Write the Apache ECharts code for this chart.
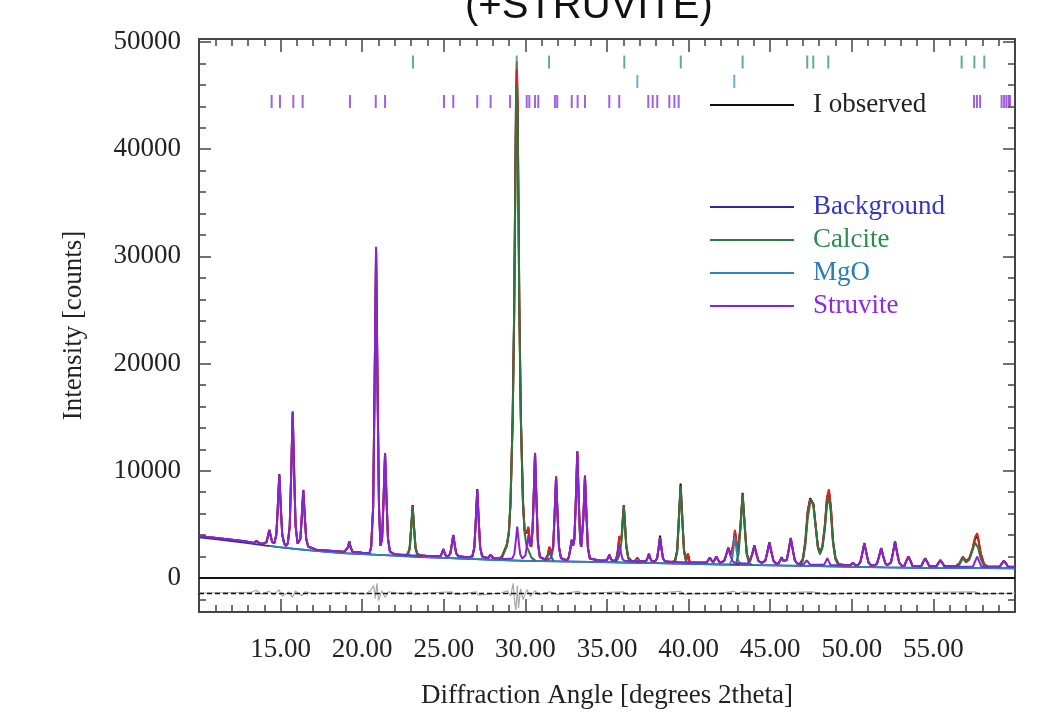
<!DOCTYPE html>
<html>
<head>
<meta charset="utf-8">
<script src="https://cdn.jsdelivr.net/npm/echarts@6/dist/echarts.min.js"></script>
<style>
html,body{margin:0;padding:0;background:#fff}
#chart{width:1042px;height:727px}
</style>
</head>
<body>
<div id="chart"></div>
<script>
// tick labels
var xLabels = [15, 20, 25, 30, 35, 40, 45, 50, 55];
var yLabels = [0, 10000, 20000, 30000, 40000, 50000];

// reflection positions (degrees 2theta)
var calciteRefl = [23.11, 29.47, 31.45, 36.06, 39.52, 43.31, 47.27, 47.64, 48.56, 56.73, 57.51, 58.12];
var mgoRefl = [36.86, 42.80];
var struviteRefl = [14.45, 14.96, 15.78, 16.35, 19.25, 20.83, 21.40, 25.01, 25.58, 27.05, 27.87, 29.06,
    30.08, 30.24, 30.59, 30.79, 31.81, 31.95, 32.84, 33.20, 33.65, 35.14, 35.75, 37.53, 37.80, 38.08,
    38.82, 39.13, 39.39, 57.49, 57.67, 57.86, 59.18, 59.33, 59.47, 59.61, 59.69];

// [2theta, counts]
var backgroundPts = [[10,3800],[11,3620],[12,3440],[13,3260],[14,3050],[15,2850],[16,2700],[17,2550],[18,2420],
    [19,2300],[20,2220],[21,2150],[22,2080],[23,2000],[24,1930],[25,1870],[26,1820],[27,1760],[28,1700],
    [29,1650],[30,1600],[32,1550],[34,1500],[36,1440],[38,1380],[40,1320],[42,1260],[44,1210],[46,1160],
    [48,1100],[50,1040],[52,990],[54,950],[56,930],[58,920],[60,910]];

var mgoPts = [[14.3,2990],[16,2700],[18,2420],[20,2220],[22,2080],[25,1870],[28,1700],[30,1600],[33,1525],
    [36.6,1425],[36.76,1500],[36.86,1750],[36.96,1500],[37.2,1410],[40,1320],[42.5,1250],[42.66,1700],
    [42.74,2500],[42.84,3850],[42.94,2500],[43.02,1700],[43.2,1240],[46,1160],[50,1040],[54,950],[58,920],[60,910]];

var calcitePts = [
    [22.6,2010],[22.79,2090],[22.91,2690],[22.99,4300],[23.09,6600],[23.19,4300],[23.27,2690],[23.39,2090],[23.6,1990], null,
    [28.4,1700],[28.57,1900],[28.87,3000],[28.99,4200],[29.09,7000],[29.22,14740],[29.31,24230],[29.37,34160],
    [29.42,42000],[29.47,46000],[29.52,42000],[29.57,34160],[29.63,24230],[29.72,14740],[29.85,7000],[29.95,4200],
    [30.07,3000],[30.37,1900],[30.6,1620], null,
    [31.2,1590],[31.37,2000],[31.47,2500],[31.57,2000],[31.74,1570], null,
    [35.55,1460],[35.7,1900],[35.8,2400],[35.9,3600],[35.96,5000],[36.03,6650],[36.1,5000],[36.18,2900],[36.3,1800],[36.5,1450], null,
    [39.0,1360],[39.17,1500],[39.3,2430],[39.39,4965],[39.51,8580],[39.63,4965],[39.72,2430],[39.85,1500],[40.05,1340], null,
    [42.75,1250],[42.91,1365],[43.06,2210],[43.17,4490],[43.31,7740],[43.45,4490],[43.56,2210],[43.71,1365],[43.9,1220], null,
    [46.8,1150],[47.0,1600],[47.15,3000],[47.3,5600],[47.45,7000],[47.54,7210],[47.65,6700],[47.78,4800],[47.92,2800],
    [48.05,2200],[48.2,2800],[48.35,4500],[48.48,6800],[48.6,7580],[48.72,6000],[48.85,3200],[49.0,1700],[49.2,1150], null,
    [56.4,1000],[56.6,1250],[56.8,1830],[57.0,1450],[57.2,1700],[57.4,2600],[57.55,3300],[57.62,3400],[57.75,2800],
    [57.9,1800],[58.1,1100],[58.3,950]];

var struvitePts = [[10,3920],[11,3740],[12,3560],[12.8,3420],[13.35,3260],[13.53,3450],[13.71,3230],[13.95,3190],
    [14.01,3160],[14.13,3330],[14.21,3800],[14.31,4480],[14.41,3800],[14.49,3330],[14.62,3250],[14.74,4060],
    [14.82,6340],[14.92,9600],[15.02,6340],[15.1,4060],[15.22,3210],[15.33,3000],[15.44,3210],[15.56,4840],
    [15.64,9230],[15.74,15500],[15.84,9230],[15.92,4840],[16.04,3210],[16.09,3150],[16.21,3630],[16.29,5510],
    [16.39,8200],[16.49,5510],[16.57,3630],[16.69,2930],[17.2,2620],[18,2540],[18.9,2430],[19.01,2450],
    [19.13,2860],[19.21,3390],[19.29,2860],[19.41,2440],[20.0,2350],[20.45,2330],[20.55,2890],[20.67,6590],
    [20.75,16560],[20.85,30800],[20.95,16560],[21.03,6590],[21.12,3000],[21.22,3670],[21.3,6940],[21.4,11600],
    [21.5,6940],[21.58,3670],[21.7,2460],[22.0,2200],[23.0,2120],[24.0,2050],[24.79,2020],[24.89,2330],
    [24.97,2700],[25.05,2330],[25.15,2010],[25.28,2030],[25.4,2290],[25.48,3000],[25.58,4000],[25.68,3000],
    [25.76,2290],[25.88,2030],[26.5,1920],[26.75,2010],[26.87,2830],[26.95,5040],[27.05,8200],[27.15,5040],
    [27.23,2830],[27.35,2010],[27.69,1840],[27.87,2150],[28.05,1835],[28.8,1780],[29.2,1830],[29.32,2220],
    [29.4,3280],[29.5,4790],[29.6,3280],[29.68,2220],[29.8,1830],[29.88,1800],[30.0,2090],[30.08,2880],
    [30.18,4000],[30.28,2950],[30.36,2850],[30.44,4500],[30.49,6680],[30.59,11630],[30.69,6680],[30.77,3210],
    [30.89,1920],[31.3,1700],[31.58,1850],[31.7,2850],[31.78,5570],[31.88,9450],[31.98,5570],[32.06,2850],
    [32.18,1850],[32.45,1680],[32.6,1720],[32.66,1950],[32.74,2600],[32.84,3540],[32.92,3000],[33.0,3600],
    [33.08,6725],[33.18,11790],[33.28,6725],[33.36,3400],[33.42,2900],[33.47,3020],[33.55,5550],[33.65,9450],
    [33.75,5550],[33.83,2820],[33.95,1810],[34.5,1625],[34.96,1620],[35.06,1850],[35.14,2150],[35.22,1850],
    [35.32,1610],[35.5,1610],[35.58,1800],[35.66,2330],[35.76,3080],[35.86,2330],[35.94,1800],[36.06,1610],
    [37.0,1545],[37.39,1550],[37.49,1850],[37.57,2240],[37.65,1850],[37.75,1545],[37.95,1545],[38.07,1840],
    [38.15,2630],[38.25,3760],[38.35,2630],[38.43,1840],[38.55,1545],[40.0,1440],[41.1,1425],[41.2,1650],
    [41.3,1900],[41.4,1650],[41.5,1450],[41.6,1700],[41.7,2000],[41.8,1700],[41.92,1410],[42.03,1410],
    [42.18,1590],[42.29,2080],[42.43,2770],[42.57,2080],[42.68,1590],[42.83,1410],[43.5,1350],[43.63,1370],
    [43.78,1580],[43.89,2160],[44.03,2990],[44.17,2160],[44.28,1580],[44.49,1400],[44.7,1610],[44.81,2300],
    [44.95,3300],[45.09,2300],[45.2,1610],[45.35,1350],[45.5,1320],[45.6,1600],[45.7,1900],[45.8,1600],
    [45.9,1450],[46.01,1660],[46.12,2490],[46.26,3700],[46.4,2490],[46.51,1640],[46.66,1330],[47.04,1265],
    [47.14,1450],[47.24,1650],[47.34,1450],[47.44,1250],[48.3,1230],[48.4,1530],[48.5,1860],[48.6,1530],
    [48.7,1215],[49.7,1175],[49.9,1170],[50.07,1400],[50.24,1160],[50.37,1190],[50.52,1460],[50.63,2190],
    [50.77,3230],[50.91,2190],[51.02,1460],[51.17,1190],[51.4,1150],[51.55,1370],[51.66,1945],[51.8,2770],
    [51.94,1945],[52.05,1370],[52.17,1180],[52.25,1145],[52.4,1445],[52.51,2245],[52.65,3390],[52.79,2245],
    [52.9,1445],[53.05,1145],[53.22,1110],[53.33,1540],[53.47,2000],[53.61,1540],[53.72,1110],[54.25,1090],
    [54.36,1440],[54.5,1820],[54.64,1440],[54.75,1090],[55.18,1075],[55.29,1355],[55.43,1650],[55.57,1355],
    [55.68,1075],[56.5,1050],[57.43,1080],[57.54,1510],[57.68,1980],[57.82,1510],[57.93,1080],[58.8,1038],
    [59.07,1050],[59.18,1320],[59.32,1600],[59.46,1320],[59.57,1050],[60,1030]];

var calcPts = [[10,3920],[11,3740],[12,3560],[12.8,3420],[13.35,3260],[13.53,3450],[13.71,3230],[13.95,3190],
    [14.01,3160],[14.13,3330],[14.21,3800],[14.31,4480],[14.41,3800],[14.49,3330],[14.62,3250],[14.74,4060],
    [14.82,6340],[14.92,9650],[15.02,6340],[15.1,4060],[15.22,3210],[15.33,3000],[15.44,3210],[15.56,4840],
    [15.64,9230],[15.74,15550],[15.84,9230],[15.92,4840],[16.04,3210],[16.09,3150],[16.21,3630],[16.29,5510],
    [16.39,8220],[16.49,5510],[16.57,3630],[16.69,2930],[17.2,2620],[18,2540],[18.9,2430],[19.01,2450],
    [19.13,2860],[19.21,3400],[19.29,2860],[19.41,2440],[20.0,2350],[20.45,2330],[20.55,2890],[20.67,6590],
    [20.75,16560],[20.85,30900],[20.95,16560],[21.03,6590],[21.12,3000],[21.22,3670],[21.3,6940],[21.4,11650],
    [21.5,6940],[21.58,3670],[21.7,2460],[22.0,2200],[22.6,2130],[22.79,2210],[22.91,2810],[22.99,4420],
    [23.09,6720],[23.19,4420],[23.27,2810],[23.39,2210],[23.6,2110],[24.0,2050],[24.79,2020],[24.89,2330],
    [24.97,2700],[25.05,2330],[25.15,2010],[25.28,2030],[25.4,2290],[25.48,3000],[25.58,4000],[25.68,3000],
    [25.76,2290],[25.88,2030],[26.5,1920],[26.75,2010],[26.87,2830],[26.95,5040],[27.05,8230],[27.15,5040],
    [27.23,2830],[27.35,2010],[27.69,1840],[27.87,2150],[28.05,1835],[28.4,1820],[28.57,2020],[28.87,3120],
    [28.99,4320],[29.09,7120],[29.22,14900],[29.31,24700],[29.37,35300],[29.42,44000],[29.47,48200],[29.52,44800],
    [29.57,36200],[29.63,25400],[29.72,15100],[29.85,7200],[29.95,4450],[30.07,4130],[30.18,4790],[30.28,3300],
    [30.36,2900],[30.44,4500],[30.49,6700],[30.59,11680],[30.69,6700],[30.77,3250],[30.89,1950],[31.2,1710],
    [31.37,2120],[31.47,2920],[31.57,2200],[31.7,2850],[31.78,5570],[31.88,9480],[31.98,5570],[32.06,2850],
    [32.18,1850],[32.45,1680],[32.6,1720],[32.66,1950],[32.74,2600],[32.84,3560],[32.92,3000],[33.0,3600],
    [33.08,6725],[33.18,11820],[33.28,6725],[33.36,3400],[33.42,2900],[33.47,3020],[33.55,5550],[33.65,9480],
    [33.75,5550],[33.83,2820],[33.95,1810],[34.5,1625],[34.96,1620],[35.06,1850],[35.14,2160],[35.22,1850],
    [35.32,1610],[35.5,1620],[35.58,1850],[35.66,2500],[35.76,3920],[35.84,3500],[35.9,3900],[35.96,5300],
    [36.03,6750],[36.1,5120],[36.18,3020],[36.3,1920],[36.5,1570],[36.7,1560],[36.86,1870],[37.0,1545],
    [37.39,1550],[37.49,1850],[37.57,2250],[37.65,1850],[37.75,1545],[37.95,1545],[38.07,1840],[38.15,2630],
    [38.25,3780],[38.35,2630],[38.43,1840],[38.55,1545],[39.0,1480],[39.17,1620],[39.3,2550],[39.39,5085],
    [39.51,8600],[39.63,5085],[39.72,2550],[39.85,1620],[39.96,2300],[40.07,1460],[40.5,1430],[41.1,1425],
    [41.2,1650],[41.3,1900],[41.4,1650],[41.5,1450],[41.6,1700],[41.7,2000],[41.8,1700],[41.92,1410],
    [42.03,1410],[42.18,1590],[42.29,2080],[42.43,2800],[42.57,2150],[42.66,2200],[42.74,3100],[42.84,4480],
    [42.94,3200],[43.02,2480],[43.06,2430],[43.17,4610],[43.31,7800],[43.45,4610],[43.56,2330],[43.71,1490],
    [43.78,1600],[43.89,2160],[44.03,3000],[44.17,2160],[44.28,1580],[44.49,1400],[44.7,1610],[44.81,2300],
    [44.95,3310],[45.09,2300],[45.2,1610],[45.35,1350],[45.5,1320],[45.6,1600],[45.7,1900],[45.8,1600],
    [45.9,1450],[46.01,1660],[46.12,2490],[46.26,3720],[46.4,2490],[46.51,1640],[46.66,1340],[46.8,1300],
    [47.0,1750],[47.15,3350],[47.3,6200],[47.45,7350],[47.54,7350],[47.65,6850],[47.78,4950],[47.92,2950],
    [48.05,2350],[48.2,2950],[48.35,4900],[48.48,7550],[48.6,8270],[48.72,6600],[48.85,3450],[49.0,1850],
    [49.2,1280],[49.7,1175],[49.9,1170],[50.07,1410],[50.24,1160],[50.37,1190],[50.52,1460],[50.63,2190],
    [50.77,3240],[50.91,2190],[51.02,1460],[51.17,1190],[51.4,1150],[51.55,1370],[51.66,1945],[51.8,2780],
    [51.94,1945],[52.05,1370],[52.17,1180],[52.25,1145],[52.4,1445],[52.51,2245],[52.65,3400],[52.79,2245],
    [52.9,1445],[53.05,1145],[53.22,1110],[53.33,1540],[53.47,2010],[53.61,1540],[53.72,1110],[54.25,1090],
    [54.36,1440],[54.5,1830],[54.64,1440],[54.75,1090],[55.18,1075],[55.29,1355],[55.43,1660],[55.57,1355],
    [55.68,1075],[56.4,1120],[56.6,1370],[56.8,1950],[57.0,1570],[57.2,1820],[57.4,2750],[57.55,3800],
    [57.68,4170],[57.75,3700],[57.9,2300],[58.1,1300],[58.3,1070],[58.8,1038],[59.07,1050],[59.18,1320],
    [59.32,1610],[59.46,1320],[59.57,1050],[60,1030]];

var observedPts = [[10,3940],[10.4,3830],[11,3750],[12,3570],[12.8,3430],[13.35,3270],[13.53,3460],[13.71,3240],
    [13.95,3200],[14.01,3170],[14.13,3340],[14.21,3810],[14.31,4490],[14.41,3810],[14.49,3340],[14.62,3260],
    [14.74,4070],[14.82,6350],[14.92,9700],[15.02,6350],[15.1,4070],[15.22,3220],[15.33,3010],[15.44,3220],
    [15.56,4850],[15.64,9240],[15.74,15400],[15.84,9240],[15.92,4850],[16.04,3220],[16.09,3160],[16.21,3640],
    [16.29,5520],[16.39,8200],[16.49,5520],[16.57,3640],[16.69,2940],[17.2,2630],[18,2550],[18.9,2440],
    [19.01,2460],[19.13,2870],[19.21,3410],[19.29,2870],[19.41,2450],[20.0,2360],[20.45,2340],[20.55,2900],
    [20.67,6600],[20.75,16600],[20.85,30600],[20.95,16600],[21.03,6600],[21.12,3010],[21.22,3680],[21.3,6950],
    [21.4,11600],[21.5,6950],[21.58,3680],[21.7,2470],[22.0,2210],[22.6,2140],[22.79,2220],[22.91,2820],
    [22.99,4450],[23.09,6800],[23.19,4450],[23.27,2820],[23.39,2220],[23.6,2120],[24.0,2060],[24.79,2030],
    [24.89,2340],[24.97,2710],[25.05,2340],[25.15,2020],[25.28,2040],[25.4,2300],[25.48,3010],[25.58,4020],
    [25.68,3010],[25.76,2300],[25.88,2040],[26.5,1930],[26.75,2020],[26.87,2840],[26.95,5060],[27.05,8300],
    [27.15,5060],[27.23,2840],[27.35,2020],[27.69,1850],[27.87,2160],[28.05,1845],[28.4,1830],[28.57,2030],
    [28.87,3130],[28.99,4330],[29.09,7150],[29.22,14950],[29.31,24750],[29.37,35200],[29.42,43500],[29.47,47400],
    [29.52,44300],[29.57,36000],[29.63,25400],[29.72,15150],[29.85,7220],[29.95,4460],[30.07,4140],[30.18,4700],
    [30.28,3310],[30.36,2910],[30.44,4510],[30.49,6710],[30.59,11650],[30.69,6710],[30.77,3260],[30.89,1960],
    [31.2,1720],[31.37,2130],[31.47,2900],[31.57,2210],[31.7,2860],[31.78,5580],[31.88,9450],[31.98,5580],
    [32.06,2860],[32.18,1860],[32.45,1690],[32.6,1730],[32.66,1960],[32.74,2610],[32.84,3580],[32.92,3010],
    [33.0,3610],[33.08,6740],[33.18,11800],[33.28,6740],[33.36,3410],[33.42,2910],[33.47,3030],[33.55,5570],
    [33.65,9550],[33.75,5570],[33.83,2830],[33.95,1820],[34.5,1635],[34.96,1630],[35.06,1860],[35.14,2170],
    [35.22,1860],[35.32,1620],[35.5,1630],[35.58,1860],[35.66,2510],[35.76,3850],[35.84,3510],[35.9,3910],
    [35.96,5310],[36.03,6800],[36.1,5130],[36.18,3030],[36.3,1930],[36.5,1580],[36.7,1570],[36.86,1880],
    [37.0,1555],[37.39,1560],[37.49,1860],[37.57,2260],[37.65,1860],[37.75,1555],[37.95,1555],[38.07,1850],
    [38.15,2650],[38.25,3950],[38.35,2650],[38.43,1850],[38.55,1555],[39.0,1490],[39.17,1630],[39.3,2570],
    [39.39,5120],[39.51,8800],[39.63,5120],[39.72,2570],[39.85,1630],[39.96,2250],[40.07,1470],[40.5,1440],
    [41.1,1435],[41.2,1660],[41.3,1910],[41.4,1660],[41.5,1460],[41.6,1710],[41.7,2010],[41.8,1710],
    [41.92,1420],[42.03,1420],[42.18,1600],[42.29,2090],[42.43,2850],[42.57,2160],[42.66,2210],[42.74,3050],
    [42.84,4350],[42.94,3210],[43.02,2490],[43.06,2440],[43.17,4650],[43.31,7950],[43.45,4650],[43.56,2340],
    [43.71,1500],[43.78,1610],[43.89,2170],[44.03,3050],[44.17,2170],[44.28,1590],[44.49,1410],[44.7,1620],
    [44.81,2310],[44.95,3350],[45.09,2310],[45.2,1620],[45.35,1360],[45.5,1330],[45.6,1610],[45.7,1950],
    [45.8,1610],[45.9,1460],[46.01,1670],[46.12,2500],[46.26,3750],[46.4,2500],[46.51,1650],[46.66,1350],
    [46.8,1310],[47.0,1760],[47.15,3380],[47.3,6250],[47.45,7450],[47.54,7450],[47.65,6900],[47.78,4980],
    [47.92,2960],[48.05,2360],[48.2,2960],[48.35,4920],[48.48,7450],[48.6,8050],[48.72,6550],[48.85,3460],
    [49.0,1860],[49.2,1290],[49.7,1185],[49.9,1180],[50.07,1420],[50.24,1170],[50.37,1200],[50.52,1470],
    [50.63,2200],[50.77,3260],[50.91,2200],[51.02,1470],[51.17,1200],[51.4,1160],[51.55,1380],[51.66,1955],
    [51.8,2800],[51.94,1955],[52.05,1380],[52.17,1190],[52.25,1155],[52.4,1455],[52.51,2255],[52.65,3420],
    [52.79,2255],[52.9,1455],[53.05,1155],[53.22,1120],[53.33,1550],[53.47,2020],[53.61,1550],[53.72,1120],
    [54.25,1100],[54.36,1450],[54.5,1840],[54.64,1450],[54.75,1100],[55.18,1085],[55.29,1365],[55.43,1670],
    [55.57,1365],[55.68,1085],[56.4,1130],[56.6,1380],[56.8,1960],[57.0,1580],[57.2,1830],[57.4,2700],
    [57.55,3650],[57.68,3950],[57.75,3600],[57.9,2280],[58.1,1310],[58.3,1080],[58.8,1048],[59.07,1060],
    [59.18,1330],[59.32,1620],[59.46,1330],[59.57,1060],[60,1040]];

var differencePts = [[10,-1400],[13.2,-1350],[13.5,-1150],[13.8,-1500],[14.3,-1250],[14.6,-1600],[14.9,-1100],
    [15.1,-1700],[15.5,-1300],[15.74,-1800],[15.9,-1200],[16.3,-1650],[16.5,-1300],[17,-1450],[19,-1350],
    [20.2,-1500],[20.5,-1200],[20.7,-700],[20.8,-1900],[20.9,-500],[21.0,-2100],[21.2,-1200],[21.4,-1800],
    [21.6,-1300],[22.5,-1450],[23.0,-1300],[23.2,-1550],[24,-1400],[25.5,-1300],[25.7,-1550],[27,-1300],
    [27.1,-1600],[28.5,-1400],[28.9,-1200],[29.1,-1700],[29.25,-500],[29.35,-2400],[29.42,-3000],[29.5,-700],
    [29.58,-2800],[29.7,-1000],[29.85,-2000],[30.1,-1100],[30.3,-1700],[30.6,-1200],[30.8,-1550],[31.5,-1300],
    [32,-1550],[33.2,-1250],[33.7,-1550],[34,-1400],[36,-1300],[36.2,-1500],[38,-1400],[39.5,-1250],
    [39.7,-1500],[42,-1400],[42.8,-1250],[43.0,-1500],[43.3,-1300],[45,-1400],[47.5,-1300],[48.6,-1500],
    [50,-1400],[57.6,-1300],[57.8,-1500],[60,-1400]];

var SERIF = '"Liberation Serif", "DejaVu Serif", serif';
var FRAME = '#444';
var Y_MIN = -3172, Y_MAX = 50280;
var ROW_CALCITE = 48130, ROW_MGO = 46320, ROW_STRUVITE = 44450;

function steps(from, to, step) {
    var a = [];
    for (var v = from; v <= to + 1e-9; v += step) a.push(v);
    return a;
}

function xFrame(position, interval, len, showLine) {
    return {
        type: 'value', position: position, min: 10, max: 60, interval: interval,
        axisLine: {show: showLine, onZero: false, lineStyle: {color: FRAME, width: 2}},
        axisTick: {inside: true, length: len, lineStyle: {color: FRAME, width: 1.5}},
        axisLabel: {show: false},
        splitLine: {show: false}
    };
}
function yFrame(position, ticks, len, showLine) {
    return {
        type: 'value', position: position, min: Y_MIN, max: Y_MAX,
        axisLine: {show: showLine, onZero: false, lineStyle: {color: FRAME, width: 2}},
        axisTick: {inside: true, length: len, customValues: ticks, lineStyle: {color: FRAME, width: 1.5}},
        axisLabel: {show: false},
        splitLine: {show: false}
    };
}

var xMain = xFrame('bottom', 1, 7, true);
xMain.axisLabel = {
    show: true, customValues: xLabels, margin: 24,
    formatter: function (v) { return v.toFixed(2); },
    fontFamily: SERIF, fontSize: 27, color: '#222'
};
xMain.name = 'Diffraction Angle [degrees 2theta]';
xMain.nameLocation = 'middle';
xMain.nameGap = 70;
xMain.nameTextStyle = {fontFamily: SERIF, fontSize: 27, color: '#222'};

var yMain = yFrame('left', steps(-2000, 50000, 2000), 7, true);
yMain.axisLabel = {
    show: true, customValues: yLabels, margin: 18,
    formatter: function (v) { return String(v); },
    fontFamily: SERIF, fontSize: 27, color: '#222'
};
yMain.name = 'Intensity [counts]';
yMain.nameLocation = 'middle';
yMain.nameGap = 112;
yMain.nameTextStyle = {fontFamily: SERIF, fontSize: 27, color: '#222'};

function lineSeries(name, data, color, z, width) {
    return {
        name: name, type: 'line', data: data, xAxisIndex: 0, yAxisIndex: 0,
        showSymbol: false, symbol: 'none', connectNulls: false, z: z, silent: true,
        itemStyle: {color: color}, lineStyle: {color: color, width: width}
    };
}
function markSeries(name, positions, row, color) {
    return {
        name: name, type: 'scatter', xAxisIndex: 0, yAxisIndex: 0, z: 9, silent: true,
        symbol: 'rect', symbolSize: [2, 13], itemStyle: {color: color},
        data: positions.map(function (v) { return [v, row]; })
    };
}

var diff = lineSeries('Difference', differencePts, '#a8a8a8', 1, 1.2);
diff.markLine = {
    silent: true, symbol: 'none', label: {show: false},
    data: [
        {yAxis: 0, lineStyle: {color: '#111', width: 1.8, type: 'solid'}},
        {yAxis: -1400, lineStyle: {color: '#111', width: 1.3, type: [5, 3]}}
    ]
};

var legendText = {fontFamily: SERIF, fontSize: 27, lineHeight: 28, color: '#222', padding: [0, 0, 0, 14]};

var option = {
    animation: false,
    backgroundColor: '#fff',
    title: {
        text: '(+STRUVITE)', left: 460, top: -18,
        textStyle: {fontFamily: '"Liberation Sans", Arial, sans-serif', fontSize: 40, fontWeight: 'normal', color: '#111'}
    },
    grid: {left: 199, right: 27, top: 39, bottom: 115},
    legend: [
        {
            data: ['I observed'], left: 705, top: 86, icon: 'rect', itemWidth: 84, itemHeight: 2,
            selectedMode: false, textStyle: legendText
        },
        {
            data: [
                {name: 'Background', textStyle: {color: '#3535c4'}},
                {name: 'Calcite', textStyle: {color: '#2e8b50'}},
                {name: 'MgO', textStyle: {color: '#2a7db8'}},
                {name: 'Struvite', textStyle: {color: '#8a2be2'}}
            ],
            orient: 'vertical', left: 705, top: 188, itemGap: 5, icon: 'rect', itemWidth: 84, itemHeight: 2,
            selectedMode: false, textStyle: legendText
        }
    ],
    xAxis: [xMain, xFrame('bottom', 5, 13, false), xFrame('top', 1, 7, true), xFrame('top', 5, 13, false)],
    yAxis: [yMain, yFrame('left', yLabels, 12, false),
        yFrame('right', steps(-2000, 50000, 2000), 7, true), yFrame('right', yLabels, 12, false)],
    series: [
        diff,
        lineSeries('I observed', observedPts, '#111111', 2, 2),
        lineSeries('I calculated', calcPts, '#e3201b', 3, 2),
        lineSeries('Background', backgroundPts, '#2d2aa0', 4, 1.8),
        lineSeries('MgO', mgoPts, '#2a88b8', 5, 1.8),
        lineSeries('Calcite', calcitePts, '#2c7640', 6, 2),
        lineSeries('Struvite', struvitePts, '#8424d6', 7, 2),
        markSeries('Calcite reflections', calciteRefl, ROW_CALCITE, '#3a9a72'),
        markSeries('MgO reflections', mgoRefl, ROW_MGO, '#4a98c8'),
        markSeries('Struvite reflections', struviteRefl, ROW_STRUVITE, '#8a3ad8')
    ]
};

var chart = echarts.init(document.getElementById('chart'));
chart.setOption(option);
</script>
</body>
</html>
